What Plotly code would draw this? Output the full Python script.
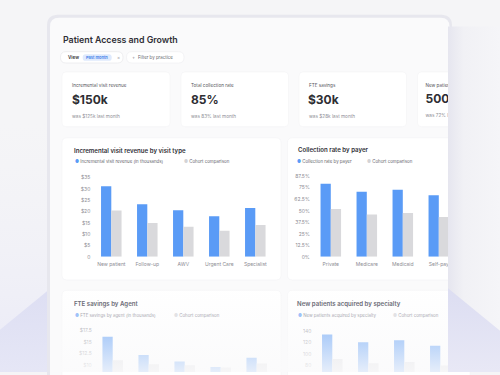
import plotly.graph_objects as go

# ---------------- data ----------------
visit_types = ["New patient", "Follow-up", "AWV", "Urgent Care", "Specialist"]
visit_revenue = [31.2, 23.2, 20.6, 17.9, 21.6]
visit_revenue_cohort = [20.5, 15.0, 13.3, 11.5, 14.1]
revenue_tickvals = [0, 5, 10, 15, 20, 25, 30, 35]
revenue_ticktext = ["0", "$5", "$10", "$15", "$20", "$25", "$30", "$35"]

payers = ["Private", "Medicare", "Medicaid", "Self-pay"]
collection_rate = [79.2, 70.7, 72.8, 66.8]
collection_rate_cohort = [51.8, 46.0, 47.5, 43.3]
rate_tickvals = [0, 12.5, 25, 37.5, 50, 62.5, 75, 87.5]
rate_ticktext = ["0%", "12.5%", "25%", "37.5%", "50%", "62.5%", "75%", "87.5%"]

agents = ["Agent 1", "Agent 2", "Agent 3", "Agent 4", "Agent 5"]
fte_savings = [16.2, 12.2, 10.8, 9.6, 11.6]
fte_savings_cohort = [11.1, 10.2, 10.0, 9.5, 10.4]
fte_tickvals = [10, 12.5, 15, 17.5]
fte_ticktext = ["$10", "$12.5", "$15", "$17.5"]

specialties = ["Cardiology", "Dermatology", "Orthopedics", "Pediatrics"]
new_patients = [134, 120.5, 124, 114.5]
new_patients_cohort = [91.5, 84, 86, 80]
np_tickvals = [80, 100, 120, 140]

kpi_labels = ["Incremental visit revenue", "Total collection rate", "FTE savings", "New patients"]
kpi_values = ["$150k", "85%", "$30k", "500"]
kpi_previous = ["was $125k last month", "was 83% last month", "was $28k last month", "was 72% last month"]

# ---------------- helpers ----------------
W, H = 500, 375
FONT = "Inter, 'Open Sans', sans-serif"
BLUE = "#5a9bf6"
GRAY = "#d9d9dc"


def px(x):
    return x / W


def py(y):
    return 1 - y / H


def Y(y):  # overlay axis coordinate (non reversed)
    return H - y


fig = go.Figure()


def rrect(x0, y0, x1, y1, r, fill, line=None, lw=0):
    X = px
    Yp = py
    p = (f"M {X(x0 + r)},{Yp(y0)} L {X(x1 - r)},{Yp(y0)} Q {X(x1)},{Yp(y0)} {X(x1)},{Yp(y0 + r)} "
         f"L {X(x1)},{Yp(y1 - r)} Q {X(x1)},{Yp(y1)} {X(x1 - r)},{Yp(y1)} "
         f"L {X(x0 + r)},{Yp(y1)} Q {X(x0)},{Yp(y1)} {X(x0)},{Yp(y1 - r)} "
         f"L {X(x0)},{Yp(y0 + r)} Q {X(x0)},{Yp(y0)} {X(x0 + r)},{Yp(y0)} Z")
    fig.add_shape(type="path", path=p, xref="paper", yref="paper", fillcolor=fill,
                  line=dict(color=line or "rgba(0,0,0,0)", width=lw), layer="below")


def txt(x, y, s, size, color, weight=400, anchor="left"):
    fig.add_annotation(x=px(x), y=py(y), xref="paper", yref="paper", text=s, showarrow=False,
                       xanchor=anchor, yanchor="middle", borderpad=0,
                       font=dict(family=FONT, size=size, color=color, weight=weight))


# ---------------- bars ----------------
def add_bars(cats, v1, v2, n, c1=BLUE, c2=GRAY):
    xa = "x" if n == 1 else f"x{n}"
    ya = "y" if n == 1 else f"y{n}"
    fig.add_trace(go.Bar(x=cats, y=v1, marker=dict(color=c1, line_width=0), xaxis=xa, yaxis=ya,
                         hoverinfo="skip"))
    fig.add_trace(go.Bar(x=cats, y=v2, marker=dict(color=c2, line_width=0), xaxis=xa, yaxis=ya,
                         hoverinfo="skip"))


add_bars(visit_types, visit_revenue, visit_revenue_cohort, 1)
add_bars(payers, collection_rate, collection_rate_cohort, 2)
add_bars(agents, fte_savings, fte_savings_cohort, 3)
add_bars(specialties, new_patients, new_patients_cohort, 4)

# ---------------- background shapes ----------------
rrect(47, 12, 452, 420, 11, "rgba(205,205,220,0.35)")
rrect(50, 15, 449.5, 420, 9, "#fafafb")
# pills
rrect(60.5, 49.5, 123, 61, 5.5, "#ffffff", "#e4e4e8", 0.6)
rrect(82.7, 52, 111.7, 58.8, 3, "#dfeafd")
rrect(126.5, 49.5, 184, 61, 5.5, "#ffffff", "#ededf0", 0.6)
# KPI cards
for x0, x1 in [(62, 170), (181, 288.5), (299, 406.5), (417.5, 470)]:
    rrect(x0, 70, x1, 125.7, 4, "#ffffff", "#f0f0f3", 0.5)
# chart panels
rrect(62, 137, 281, 281.5, 5, "#ffffff", "#f0f0f3", 0.5)
rrect(287.5, 137, 470, 281.5, 5, "#ffffff", "#f0f0f3", 0.5)
rrect(62, 292, 281, 430, 5, "#ffffff", "#f0f0f3", 0.5)
rrect(287.5, 292, 470, 430, 5, "#ffffff", "#f0f0f3", 0.5)

# ---------------- texts ----------------
txt(61.5, 37.2, "Patient Access and Growth", 8.8, "#2f2f36", 600)
txt(66.5, 55.3, "View", 4.6, "#333338", 600)
txt(97.2, 55.4, "Past month", 4.0, "#3b7de8", 600, "center")
txt(116, 55.2, "×", 4.8, "#9a9aa0")
txt(130.5, 55.2, "+", 4.8, "#8a8a90")
txt(136.5, 55.4, "Filter by practice", 4.4, "#66666c")

for i, x in enumerate([71, 190, 307.5]):
    txt(x, 84, kpi_labels[i], 4.6, "#55555b")
    txt(x - 0.5, 98.5, kpi_values[i], 12, "#2e2e33", 700)
    txt(x, 115, kpi_previous[i], 4.7, "#8e8e95")

TS = 6.1
LS = 4.4
txt(73, 150, "Incremental visit revenue by visit type", TS, "#2f2f36", 600)
txt(74, 161.3, f'<span style="color:{BLUE}">●</span> Incremental visit revenue (in thousands)', LS, "#66666c")
txt(183, 161.3, '<span style="color:#d3d3d6">●</span> Cohort comparison', LS, "#66666c")

txt(296.5, 149.5, "Collection rate by payer", TS, "#2f2f36", 600)
txt(296, 161.3, f'<span style="color:{BLUE}">●</span> Collection rate by payer', LS, "#66666c")
txt(365.5, 161.3, '<span style="color:#d3d3d6">●</span> Cohort comparison', LS, "#66666c")

txt(73, 305.5, "FTE savings by Agent", TS, "#6c6c76", 600)
txt(74, 317.7, '<span style="color:#9fc2f8">●</span> FTE savings by agent (in thousands)', LS, "#ababb3")
txt(173, 317.7, '<span style="color:#e2e2e5">●</span> Cohort comparison', LS, "#ababb3")

txt(295.5, 305.5, "New patients acquired by specialty", TS, "#6c6c76", 600)
txt(296.5, 317.7, '<span style="color:#9fc2f8">●</span> New patients acquired by specialty', LS, "#ababb3")
txt(392, 317.7, '<span style="color:#e2e2e5">●</span> Cohort comparison', LS, "#ababb3")

# ---------------- overlay (foreground) traces ----------------
OV = dict(xaxis="x5", yaxis="y5", hoverinfo="skip", showlegend=False)

# 4th KPI card text (clipped by side panel)
for yy, s, size, col, wt in [(84, kpi_labels[3], 4.6, "#55555b", 400),
                             (98.5, kpi_values[3], 12, "#2e2e33", 700),
                             (115, kpi_previous[3], 4.7, "#8e8e95", 400)]:
    fig.add_trace(go.Scatter(x=[425.5], y=[Y(yy)], mode="text", text=[s], textposition="middle right",
                             textfont=dict(family=FONT, size=size, color=col, weight=wt), **OV))


def poly(xs, ys, fill=None, grad=None):
    kw = dict(x=xs, y=[Y(v) for v in ys], mode="lines", fill="toself", line=dict(width=0), **OV)
    if grad is not None:
        kw["fillgradient"] = grad
        kw["fillcolor"] = "rgba(0,0,0,0)"
    else:
        kw["fillcolor"] = fill
    fig.add_trace(go.Scatter(**kw))


# bottom fade of the dashboard
poly([50, 448, 448, 50, 50], [288, 288, 375, 375, 288],
     grad=dict(type="vertical", start=Y(375), stop=Y(288),
               colorscale=[[0, "rgba(250,250,251,0.93)"], [1, "rgba(250,250,251,0.1)"]]))

# left lavender haze
poly([0, 47, 47, 0, 0], [120, 120, 375, 375, 120],
     grad=dict(type="vertical", start=Y(375), stop=Y(120),
               colorscale=[[0, "rgba(234,234,247,1)"], [1, "rgba(240,240,247,0)"]]))
poly([0, 47, 47, 0, 0], [332, 293, 375, 375, 332],
     grad=dict(type="vertical", start=Y(375), stop=Y(293),
               colorscale=[[0, "rgba(230,231,246,1)"], [1, "rgba(222,223,243,1)"]]))

# right side panel
poly([448, 500, 500, 448, 448], [24, 24, 375, 375, 24],
     grad=dict(type="horizontal", start=448, stop=500,
               colorscale=[[0, "#e6e6ef"], [0.3, "#f1f1f5"], [1, "#f5f5f8"]]))
poly([448, 500, 500, 448, 448], [290, 333, 375, 375, 290],
     grad=dict(type="vertical", start=Y(375), stop=Y(290),
               colorscale=[[0, "rgba(233,233,246,1)"], [1, "rgba(221,222,242,1)"]]))

# ---------------- layout ----------------
tick_font = dict(family=FONT, size=5, color="#8d8d94")
common_x = dict(showgrid=False, zeroline=False, showline=False, ticks="", tickfont=tick_font,
                fixedrange=True, ticklabelstandoff=3)
common_y = dict(showgrid=False, zeroline=False, showline=False, ticks="", tickfont=tick_font,
                fixedrange=True, ticklabelstandoff=2)

fig.update_layout(
    width=W, height=H, autosize=False,
    margin=dict(l=0, r=0, t=0, b=0),
    paper_bgcolor="#f5f5f7", plot_bgcolor="rgba(0,0,0,0)",
    showlegend=False, barmode="group", bargap=0.43, bargroupgap=0,
    font=dict(family=FONT),
    xaxis=dict(domain=[px(93.3), px(273.3)], anchor="y", **common_x),
    yaxis=dict(domain=[py(258), py(177.5)], anchor="x", range=[0, 35],
               tickvals=revenue_tickvals, ticktext=revenue_ticktext, **common_y),
    xaxis2=dict(domain=[px(312.8), px(456.8)], anchor="y2", **common_x),
    yaxis2=dict(domain=[py(258), py(176)], anchor="x2", range=[0, 87.5],
                tickvals=rate_tickvals, ticktext=rate_ticktext, **common_y),
    xaxis3=dict(domain=[px(94.7), px(274.7)], anchor="y3", showticklabels=False,
                showgrid=False, zeroline=False, fixedrange=True),
    yaxis3=dict(domain=[0, py(333)], anchor="x3", range=[8.53, 17.5],
                tickvals=fte_tickvals, ticktext=fte_ticktext, **common_y),
    xaxis4=dict(domain=[px(314.3), px(458.3)], anchor="y4", showticklabels=False,
                showgrid=False, zeroline=False, fixedrange=True),
    yaxis4=dict(domain=[0, py(333.3)], anchor="x4", range=[68.7, 140],
                tickvals=np_tickvals, **common_y),
    xaxis5=dict(domain=[0, 1], range=[0, W], visible=False, fixedrange=True, anchor="y5"),
    yaxis5=dict(domain=[0, 1], range=[0, H], visible=False, fixedrange=True, anchor="x5"),
)

fig.write_html("out.html", config={"displayModeBar": False, "staticPlot": True},
               post_script="document.body.style.margin='0';document.body.style.background='#f5f5f7';")
